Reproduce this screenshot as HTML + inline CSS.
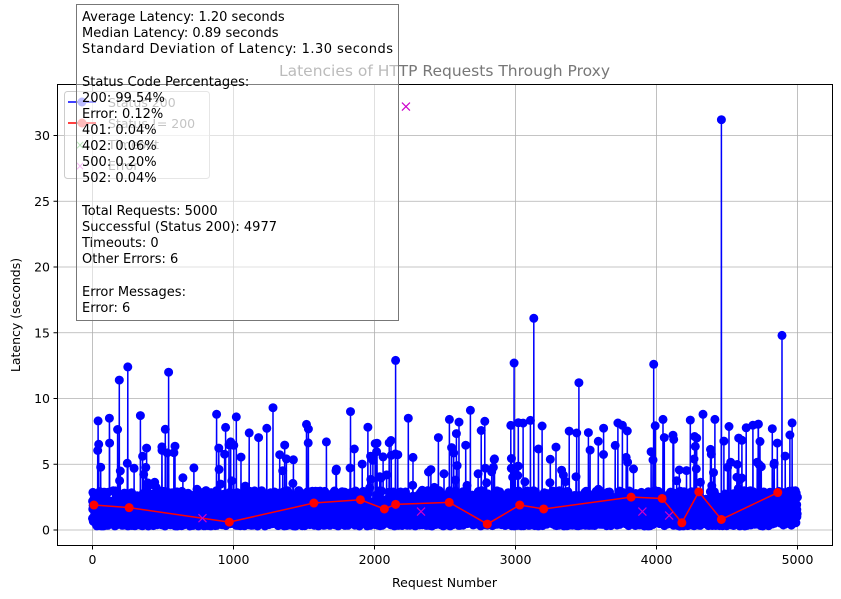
<!DOCTYPE html>
<html><head><meta charset="utf-8"><style>
body{margin:0;background:#fff;}
svg{display:block;font-family:"DejaVu Sans","Liberation Sans",sans-serif;}
</style></head><body>
<svg id="s" width="841" height="599" xmlns="http://www.w3.org/2000/svg">
<rect width="841" height="599" fill="#fff"/>
<g id="grid" stroke="#b0b0b0" stroke-width="0.8"></g>
<g id="blue"></g>
<g id="red"></g>
<g id="mag"></g>
<rect x="57.5" y="84.5" width="775" height="461" fill="none" stroke="#000" stroke-width="1"/>
<g id="ticks" font-size="12.5" fill="#000"></g>
<text x="444.5" y="76" font-size="15.5" fill="#777" text-anchor="middle">Latencies of HTTP Requests Through Proxy</text>
<text x="444.5" y="587" font-size="12.5" text-anchor="middle">Request Number</text>
<text x="20" y="315" font-size="12.5" text-anchor="middle" transform="rotate(-90 20 315)">Latency (seconds)</text>
<g>
<rect x="64.5" y="91.5" width="145" height="87" rx="3" fill="#fff" fill-opacity="0.5" stroke="#ccc"/>
<line x1="68" y1="102" x2="96" y2="102" stroke="#00f" stroke-width="1.5"/><circle cx="82" cy="102" r="4.5" fill="#77f"/>
<line x1="68" y1="123" x2="96" y2="123" stroke="#f00" stroke-width="1.5"/><circle cx="82" cy="123" r="4.5" fill="#f77"/>
<text x="80" y="149" font-size="12" fill="#7c7" text-anchor="middle">×</text>
<text x="80" y="170" font-size="12" fill="#e7e" text-anchor="middle">×</text>
<g font-size="12.5" fill="#888"><text x="108" y="107">Status 200</text><text x="108" y="128">Status != 200</text><text x="108" y="149">Timeout</text><text x="108" y="170">Error</text></g>
</g>
<rect x="76.5" y="4.5" width="322" height="316" fill="#fff" fill-opacity="0.5" stroke="#777"/>
<g font-size="13" fill="#000">
<text x="82" y="21">Average Latency: 1.20 seconds</text>
<text x="82" y="37">Median Latency: 0.89 seconds</text>
<text x="82" y="53" textLength="311">Standard Deviation of Latency: 1.30 seconds</text>
<text x="82" y="86">Status Code Percentages:</text>
<text x="82" y="102">200: 99.54%</text>
<text x="82" y="118">Error: 0.12%</text>
<text x="82" y="134">401: 0.04%</text>
<text x="82" y="150">402: 0.06%</text>
<text x="82" y="166">500: 0.20%</text>
<text x="82" y="182">502: 0.04%</text>
<text x="82" y="215">Total Requests: 5000</text>
<text x="82" y="231">Successful (Status 200): 4977</text>
<text x="82" y="247">Timeouts: 0</text>
<text x="82" y="263">Other Errors: 6</text>
<text x="82" y="296">Error Messages:</text>
<text x="82" y="312">Error: 6</text>
</g>
</svg>
<script>
var NS="http://www.w3.org/2000/svg";
function X(n){return 92.5+n*0.141;}function Y(v){return 530-v*13.15;}
function el(p,t,a){var e=document.createElementNS(NS,t);for(var k in a)e.setAttribute(k,a[k]);p.appendChild(e);return e;}
var g=document.getElementById('grid'),tk=document.getElementById('ticks');
for(var i=0;i<=5;i++){var x=X(i*1000);el(g,'line',{x1:x,x2:x,y1:84.5,y2:545.5});el(tk,'line',{x1:x,x2:x,y1:545.5,y2:549.5,stroke:'#000'});var t=el(tk,'text',{x:x,y:564,'text-anchor':'middle'});t.textContent=i*1000;}
for(var i=0;i<=6;i++){var y=Y(i*5);el(g,'line',{x1:57.5,x2:832.5,y1:y,y2:y});el(tk,'line',{x1:53.5,x2:57.5,y1:y,y2:y,stroke:'#000'});var t=el(tk,'text',{x:50,y:y+4.5,'text-anchor':'end'});t.textContent=i*5;}
var s=12345;function r(){s=(s*1103515245+12345)%2147483648;return s/2147483648;}
var big={190:11.4,250:12.4,540:12,2150:12.9,2990:12.7,3130:16.1,3450:11.2,3980:12.6,4460:31.2,4890:14.8,880:8.8,1280:9.3,1830:9,2680:9.1,4330:8.8,40:8.3,120:8.5,340:8.7,1020:8.6,2240:8.5};
var pts=[],b=document.getElementById('blue');
for(var n=0;n<5000;n++){var v;if(big[n])v=big[n];else{var q=r();if(q<0.03)v=3+r()*5.5;else if(q<0.22)v=1.8+r()*1.2;else v=0.3+r()*1.9;}pts.push(X(n).toFixed(1)+','+Y(v).toFixed(1));}
el(b,'polyline',{points:pts.join(' '),fill:'none',stroke:'#00f','stroke-width':1.5});
var d='';pts.forEach(function(p){var a=p.split(',');d+='M'+(a[0]-4.5)+' '+a[1]+'a4.5 4.5 0 1 0 9 0a4.5 4.5 0 1 0 -9 0';});
el(b,'path',{d:d,fill:'#00f'});
var red=[[10,1.9],[260,1.7],[970,0.6],[1570,2.05],[1900,2.3],[2070,1.6],[2150,1.95],[2530,2.1],[2800,0.45],[3030,1.9],[3200,1.6],[3820,2.5],[4040,2.4],[4180,0.55],[4300,2.9],[4460,0.8],[4860,2.85]];
var R=document.getElementById('red');
el(R,'polyline',{points:red.map(function(p){return X(p[0])+','+Y(p[1]);}).join(' '),fill:'none',stroke:'#f00','stroke-width':1.5});
red.forEach(function(p){el(R,'circle',{cx:X(p[0]),cy:Y(p[1]),r:4.5,fill:'#f00'});});
var M=document.getElementById('mag');
[[780,0.9],[2330,1.4],[3900,1.4],[4090,1.1],[2223,32.2]].forEach(function(p){var x=X(p[0]),y=Y(p[1]);el(M,'path',{d:'M'+(x-4)+' '+(y-4)+'L'+(x+4)+' '+(y+4)+'M'+(x-4)+' '+(y+4)+'L'+(x+4)+' '+(y-4),stroke:'#c0c','stroke-width':1.2});});
</script>
</body></html>
